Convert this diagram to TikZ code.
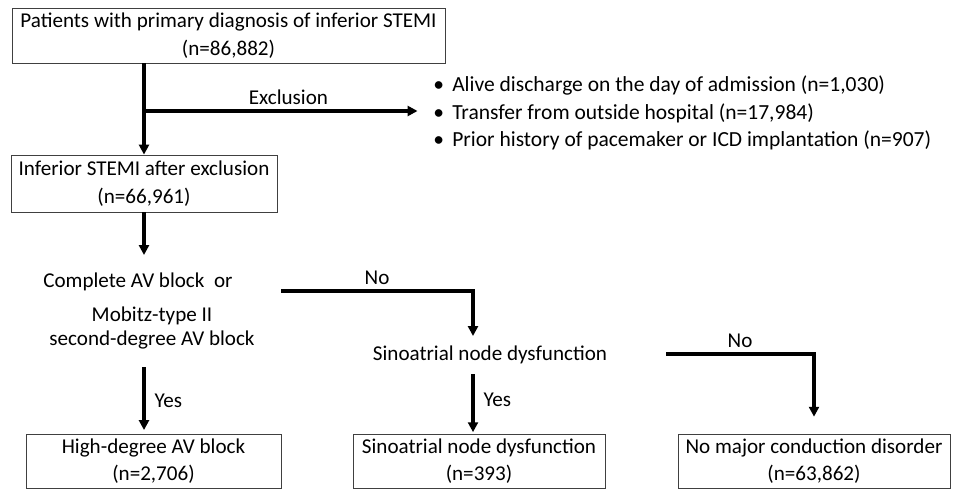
\documentclass[tikz,border=0pt]{standalone}
\usepackage{fontspec}
\setmainfont{Carlito}
\usetikzlibrary{arrows.meta}

\newcommand{\exitem}{\makebox[0.475cm][l]{\textbullet}}

\begin{document}
\begin{tikzpicture}[
    x=0.025cm, y=-0.025cm,
    font=\fontsize{15}{19.5}\selectfont,
    box/.style={rectangle, draw=black!75, line width=0.6pt, align=center, inner sep=0pt},
    choice/.style={align=center, inner xsep=2pt},
    arr/.style={-{Triangle[length=7pt, width=7pt]}, line width=2.3pt}
]
    \useasboundingbox (0,0) rectangle (957,491);

    % Cohort and exclusion
    \node[box, minimum width=10.825cm, minimum height=1.375cm] (all) at (228.5,35.5) {Patients with primary diagnosis of inferior STEMI\\(n=86,882)};
    \node[box, minimum width=6.65cm, minimum height=1.425cm] (cohort) at (144,183.5) {Inferior STEMI after exclusion\\(n=66,961)};
    \node[anchor=west, align=left, inner sep=0pt, font=\fontsize{15.3}{19.5}\selectfont] (excl) at (433,113) {\exitem Alive discharge on the day of admission (n=1,030)\\\exitem Transfer from outside hospital (n=17,984)\\\exitem Prior history of pacemaker or ICD implantation (n=907)};
    \coordinate (split) at (144,111);

    \draw[arr] (all.south -| cohort) -- (cohort.north);
    \draw[arr, shorten >=11pt] (split) -- node[above] {Exclusion} (split -| excl.west);

    % Decisions
    \node[choice, inner ysep=12.5pt, anchor=north, font=\fontsize{15}{17.1}\selectfont] (avq) at (152,255) {Complete AV block\ \ or\hspace*{20pt}\\[7.1pt]Mobitz-type II\\second-degree AV block};
    \node[choice, inner ysep=7pt, anchor=north] (saq) at (490,336) {Sinoatrial node dysfunction};
    \coordinate (sacol) at (473,0);
    \coordinate (no1) at (281,291);
    \coordinate (no2) at (666,354);

    \draw[arr] (cohort.south) -- (cohort.south |- avq.north);
    \draw[arr] (no1) -| node[pos=0.25, above] {No} (saq.north -| sacol);

    % Outcomes
    \node[box, minimum width=6.375cm, minimum height=1.35cm] (hda) at (153.5,461) {High-degree AV block\\(n=2,706)};
    \node[box, minimum width=6.3cm, minimum height=1.35cm] (sa) at (479,461) {Sinoatrial node dysfunction\\(n=393)};
    \node[box, minimum width=6.8cm, minimum height=1.35cm] (none) at (814,461) {No major conduction disorder\\(n=63,862)};

    \draw[arr, shorten >=2.5pt] (avq.south -| cohort) -- node[right=3pt] {Yes} (hda.north -| cohort);
    \draw[arr, shorten >=1pt] (saq.south -| sacol) -- node[right=3pt, yshift=3pt] {Yes} (sa.north -| sacol);
    \draw[arr, shorten >=12pt] (no2) -| node[pos=0.25, above] {No} (none.north);
\end{tikzpicture}
\end{document}
